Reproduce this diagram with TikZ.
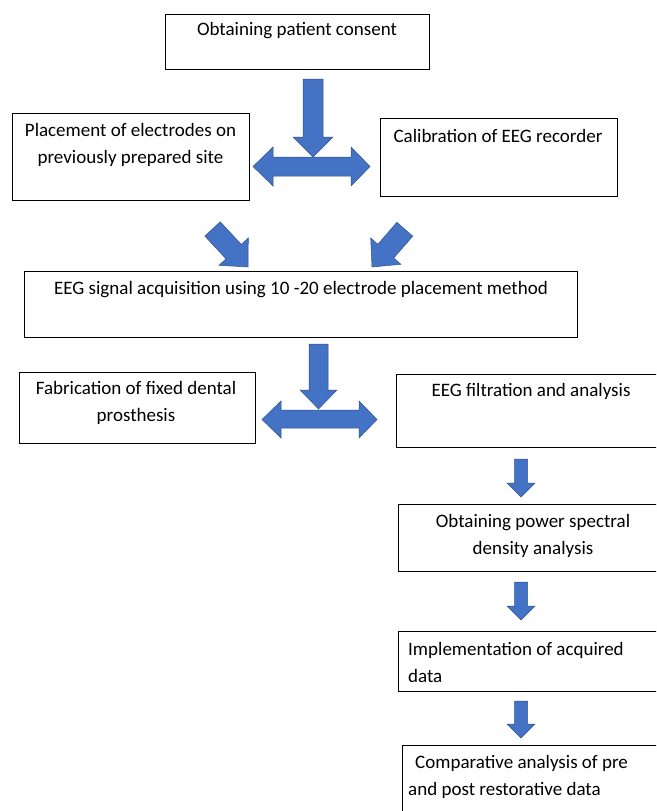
\documentclass[tikz,border=0pt]{standalone}
\usepackage{fontspec}
\setmainfont{Carlito}
\definecolor{arrfill}{HTML}{4472C4}
\definecolor{arrline}{HTML}{2F528F}
\tikzset{
  boxnode/.style={draw=black, line width=0.8pt, minimum width=#1, inner sep=0pt},
  txt/.style={font=\fontsize{19}{27}\selectfont, inner sep=0pt, align=center, text=black},
  txtl/.style={font=\fontsize{19}{27}\selectfont, inner sep=0pt, align=left, text=black},
  blockarrow/.style={fill=arrfill, draw=arrline, line width=0.5pt, line join=miter}
}
\begin{document}
\begin{tikzpicture}[x=1pt,y=-1pt]
\useasboundingbox (0,0) rectangle (656,811);
\clip (0,0) rectangle (656,811);
\fill[white] (0,0) rectangle (656,811);

% boxes
\node[boxnode=264pt, minimum height=55pt] (b1) at (297,41.5) {};
\node[boxnode=237pt, minimum height=87pt] (b2) at (130.5,156.5) {};
\node[boxnode=237pt, minimum height=78pt] (b3) at (498.5,157) {};
\node[boxnode=553pt, minimum height=66pt] (b4) at (300.5,304) {};
\node[boxnode=236pt, minimum height=71pt] (b5) at (137,407.5) {};
\node[boxnode=264pt, minimum height=73pt] (b6) at (528,410.5) {};
\node[boxnode=262pt, minimum height=67pt] (b7) at (529,537.5) {};
\node[boxnode=262pt, minimum height=60pt] (b8) at (529,661) {};
\node[boxnode=258pt, minimum height=85pt] (b9) at (531,787.5) {};

% texts
\node[txt] (t1) at (297,31) {Obtaining patient consent};
\node[txt] (t2) at (130.5,145) {Placement of electrodes on\\previously prepared site};
\node[txt] (t3) at (498,136) {Calibration of EEG recorder};
\node[txt] (t4) at (301,290) {EEG signal acquisition using 10 -20 electrode placement method};
\node[txt] (t5) at (136,402.5) {Fabrication of fixed dental\\prosthesis};
\node[txt] (t6) at (531,391) {EEG filtration and analysis};
\node[txt] (t7) at (533,535.5) {Obtaining power spectral\\density analysis};
\node[txtl, anchor=west] (t8) at (408,662.5) {Implementation of acquired\\data};
\node[txtl, anchor=west] (t9) at (408,776.5) {\hspace*{7pt}Comparative analysis of pre\\and post restorative data};

% first T arrow group
\draw[blockarrow] (253,166.5) -- (273,147) -- (273,157) -- (351,157) -- (351,147) -- (370,166.5)
  -- (351,186) -- (351,176) -- (273,176) -- (273,186) -- cycle;
\draw[blockarrow] (303,79) -- (323,79) -- (323,137) -- (333,137) -- (313,157) -- (293,137) -- (303,137) -- cycle;

% diagonal arrows
\begin{scope}[shift={(248,267)}, rotate=-47]
\draw[blockarrow] (-52,-10.5) -- (-21,-10.5) -- (-21,-20) -- (0,0) -- (-21,20) -- (-21,10.5) -- (-52,10.5) -- cycle;
\end{scope}
\begin{scope}[shift={(372,267)}, rotate=-131]
\draw[blockarrow] (-50,-10.5) -- (-21,-10.5) -- (-21,-20) -- (0,0) -- (-21,20) -- (-21,10.5) -- (-50,10.5) -- cycle;
\end{scope}

% second T arrow group
\draw[blockarrow] (262,419.5) -- (281,401) -- (281,410) -- (359,410) -- (359,401) -- (377,419.5)
  -- (359,438) -- (359,428) -- (281,428) -- (281,438) -- cycle;
\draw[blockarrow] (309,344) -- (328,344) -- (328,390) -- (337,390) -- (318.5,409) -- (300,390) -- (309,390) -- cycle;

% small down arrows
\draw[blockarrow] (514.5,459) -- (527.5,459) -- (527.5,483) -- (535,483) -- (521,497) -- (507,483) -- (514.5,483) -- cycle;
\draw[blockarrow] (514.5,582) -- (527.5,582) -- (527.5,606) -- (535,606) -- (521,620) -- (507,606) -- (514.5,606) -- cycle;
\draw[blockarrow] (514.5,701) -- (527.5,701) -- (527.5,724) -- (535,724) -- (521,738) -- (507,724) -- (514.5,724) -- cycle;
\end{tikzpicture}
\end{document}
